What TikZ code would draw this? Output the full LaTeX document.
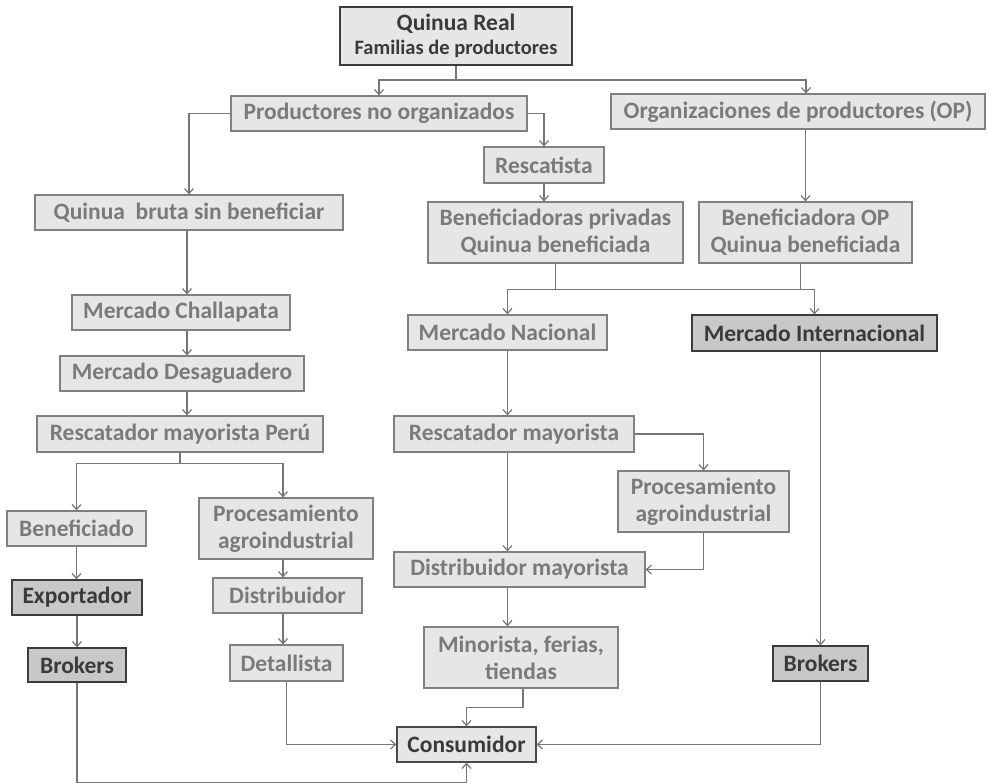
\documentclass[tikz,border=0pt]{standalone}
\usepackage{fontspec}
\setmainfont{Carlito}
\usetikzlibrary{arrows.meta}
\definecolor{lfill}{RGB}{230,230,230}
\definecolor{dfill}{RGB}{200,200,200}
\definecolor{lline}{RGB}{128,128,128}
\definecolor{dline}{RGB}{60,60,60}
\definecolor{ltext}{RGB}{122,122,122}
\definecolor{dtext}{RGB}{58,58,58}
\definecolor{conn}{RGB}{118,118,118}
\tikzset{
  box/.style={draw=lline, fill=lfill, text=ltext, line width=1.2pt, inner sep=0pt,
    align=center, font=\fontsize{23.5}{27}\selectfont\bfseries},
  dbox/.style={box, draw=dline, fill=dfill, text=dtext},
  kbox/.style={box, draw=dline, text=dtext},
  arr/.style={draw=conn, line width=1.2pt, -{Straight Barb[length=5pt,width=9pt]}},
  ln/.style={draw=conn, line width=1.2pt},
}
\begin{document}
\begin{tikzpicture}[x=1pt,y=-1pt]
\useasboundingbox (0,0) rectangle (989,784);
\fill[white] (0,0) rectangle (989,784);
% nodes
\node[kbox, minimum width=232, minimum height=58] (qr) at (456,36)
  {Quinua Real\\[-3pt]{\fontsize{20.5}{24}\selectfont Familias de productores}};
\node[box, minimum width=296, minimum height=35] (pno) at (379,113.5) {Productores no organizados};
\node[box, minimum width=374, minimum height=35] (org) at (798,111.5) {Organizaciones de productores (OP)};
\node[box, minimum width=120, minimum height=36] (resc) at (544,165) {Rescatista};
\node[box, minimum width=308, minimum height=35] (qb) at (189,212.5) {Quinua~~bruta sin beneficiar};
\node[box, minimum width=255, minimum height=61] (bpriv) at (555.5,232.5) {Beneficiadoras privadas\\Quinua beneficiada};
\node[box, minimum width=213, minimum height=61] (bop) at (805.5,232.5) {Beneficiadora OP\\Quinua beneficiada};
\node[box, minimum width=218, minimum height=35] (mch) at (181,312.5) {Mercado Challapata};
\node[box, minimum width=199, minimum height=35] (mnac) at (507.5,332.5) {Mercado Nacional};
\node[dbox, minimum width=245, minimum height=36] (mint) at (814.5,333) {Mercado Internacional};
\node[box, minimum width=244, minimum height=35] (mdes) at (182,373.5) {Mercado Desaguadero};
\node[box, minimum width=286, minimum height=36] (rperu) at (180,434) {Rescatador mayorista Perú};
\node[box, minimum width=240, minimum height=36] (rmay) at (514,434) {Rescatador mayorista};
\node[box, minimum width=139, minimum height=35] (benef) at (76.5,528.5) {Beneficiado};
\node[box, minimum width=174, minimum height=61] (procL) at (286,528.5) {Procesamiento\\agroindustrial};
\node[box, minimum width=171, minimum height=61] (procR) at (703.5,501.5) {Procesamiento\\agroindustrial};
\node[box, minimum width=251, minimum height=35] (dmay) at (519.5,569.5) {Distribuidor mayorista};
\node[dbox, minimum width=130, minimum height=35] (expo) at (77,597.5) {Exportador};
\node[box, minimum width=149, minimum height=35] (dist) at (287.5,595.5) {Distribuidor};
\node[box, minimum width=194, minimum height=61] (mino) at (521,657.5) {Minorista, ferias,\\tiendas};
\node[box, minimum width=113, minimum height=36] (detal) at (286.5,663) {Detallista};
\node[dbox, minimum width=98, minimum height=34] (brL) at (77,665) {Brokers};
\node[dbox, minimum width=95, minimum height=35] (brR) at (820.5,663.5) {Brokers};
\node[kbox, draw=dline!80!lline, minimum width=139, minimum height=35] (cons) at (466.5,744.5) {Consumidor};
% connectors
\coordinate (j1) at (456,80);
\draw[ln] (qr.south) -- (j1);
\draw[arr] (j1) -| (pno.north);
\draw[arr] (j1) -| ([xshift=8]org.north);
\draw[arr] (pno.east) -| (resc.north);
\draw[arr] (pno.west) -| (qb.north);
\draw[arr] (resc.south) -- (resc.south |- bpriv.north);
\draw[arr] (bop.north |- org.south) -- (bop.north);
\draw[arr] ([xshift=-2]qb.south) -- ([xshift=-2]qb.south |- mch.north);
\draw[arr] ([xshift=-2]qb.south |- mch.south) -- ([xshift=-2]qb.south |- mdes.north);
\draw[arr] ([xshift=-2]qb.south |- mdes.south) -- ([xshift=-2]qb.south |- rperu.north);
\path (rperu.south) ++(0,11) coordinate (j2);
\draw[ln] (rperu.south) -- (j2);
\draw[arr] (j2) -| (benef.north);
\draw[arr] (j2) -| ([xshift=-3]procL.north);
\draw[arr] (benef.south) -- (benef.south |- expo.north);
\draw[arr] (expo.south) -- (brL.north);
\draw[arr] ([xshift=-3]procL.south) -- ([xshift=-3]procL.south |- dist.north);
\draw[arr] ([xshift=-3]procL.south |- dist.south) -- ([xshift=-3]procL.south |- detal.north);
\draw[arr] (detal.south) |- (cons.west);
\path (brL.south) ++(0,100) coordinate (j4);
\draw[arr] (brL.south) -- (j4) -| (cons.south);
\path (bpriv.south) ++(0,26) coordinate (j3);
\draw[ln] (bpriv.south) -- (j3);
\draw[arr] (j3) -| (mnac.north);
\draw[arr] (j3) -| (mint.north);
\draw[ln] ([xshift=-5]bop.south) -- ([xshift=-5]bop.south |- j3);
\draw[arr] (mnac.south) -- (mnac.south |- rmay.north);
\draw[arr] (brR.north |- mint.south) -- (brR.north);
\draw[arr] (rmay.east) -| (procR.north);
\draw[arr] (mnac.south |- rmay.south) -- (mnac.south |- dmay.north);
\draw[arr] (procR.south) |- (dmay.east);
\draw[arr] (mnac.south |- dmay.south) -- (mnac.south |- mino.north);
\path ([xshift=2]mino.south) ++(0,19) coordinate (j5);
\draw[arr] ([xshift=2]mino.south) -- (j5) -| (cons.north);
\draw[arr] (brR.south) |- (cons.east);
\end{tikzpicture}
\end{document}
